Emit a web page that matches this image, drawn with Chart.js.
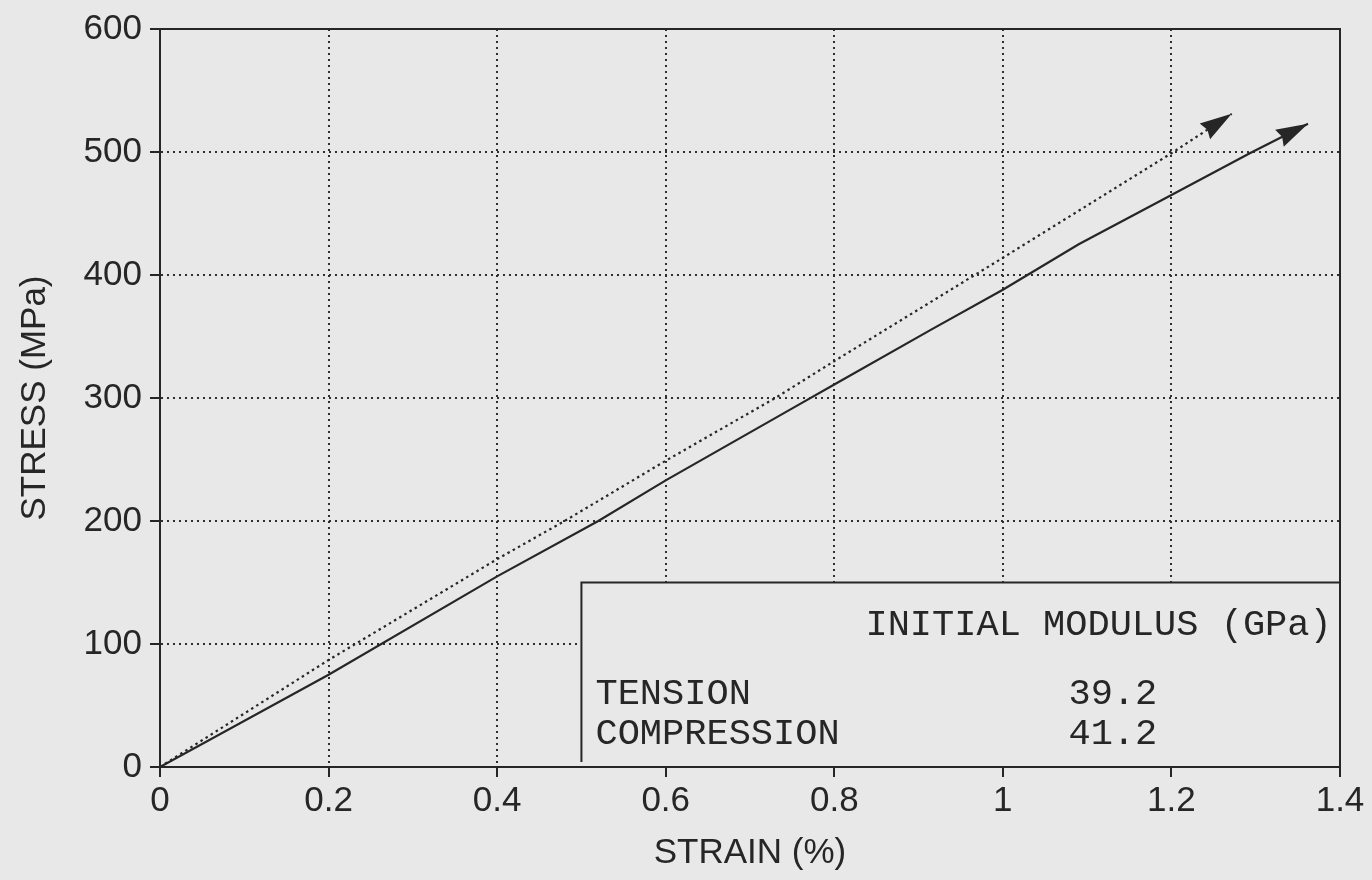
<!DOCTYPE html>
<html>
<head>
<meta charset="utf-8">
<title>Stress–strain curves</title>
<script src="https://cdn.jsdelivr.net/npm/chart.js@4/dist/chart.umd.min.js"></script>
<style>
  html, body { margin: 0; padding: 0; background: #e8e8e8; }
  #wrap { width: 1372px; height: 880px; }
</style>
</head>
<body>
<div id="wrap"><canvas id="chart" width="1372" height="880"></canvas></div>
<script>
// Tension curve (solid line): strain in %, stress in MPa
const tensionStrain = [0, 0.2, 0.4, 0.52, 0.6, 0.759, 0.8, 0.916, 1.0, 1.09, 1.2, 1.293, 1.362];
const tensionStress = [0, 75, 155, 200, 233, 295, 311, 356, 388, 425, 465, 499, 523];

// Compression curve (dotted line)
const compressionStrain = [0, 0.2, 0.4, 0.48, 0.6, 0.73, 0.8, 1.0, 1.2, 1.2715];
const compressionStress = [0, 87, 169, 200, 249, 300, 330, 414, 499, 531];

// Axis ticks
const xTickLabels = ['0', '0.2', '0.4', '0.6', '0.8', '1', '1.2', '1.4'];
const yTickLabels = ['0', '100', '200', '300', '400', '500', '600'];

// Modulus table shown in the lower-right box
const tableHeader = 'INITIAL MODULUS (GPa)';
const tableRows = ['TENSION', 'COMPRESSION'];
const tableValues = ['39.2', '41.2'];

const INK = '#262626';
const PAPER = '#e8e8e8';
const SANS = '"Liberation Sans", Arial, Helvetica, sans-serif';
const MONO = '"Liberation Mono", "Courier New", monospace';

const toPoints = (xs, ys) => xs.map((x, i) => ({ x: x, y: ys[i] }));

// Frame, modulus box and arrowheads
const decorations = {
  id: 'decorations',
  beforeDatasetsDraw(chart) {
    const { ctx, chartArea: a, scales: { x, y } } = chart;
    const bx = x.getPixelForValue(0.5);
    const by = y.getPixelForValue(150);
    ctx.save();
    // box background hides the grid underneath
    ctx.fillStyle = PAPER;
    ctx.fillRect(bx, by, a.right - bx, a.bottom - by);
    ctx.strokeStyle = INK;
    ctx.lineWidth = 2;
    ctx.setLineDash([]);
    ctx.beginPath();
    ctx.moveTo(bx, a.bottom - 5);
    ctx.lineTo(bx, by);
    ctx.lineTo(a.right, by);
    ctx.stroke();
    // plot frame
    ctx.strokeRect(a.left, a.top, a.right - a.left, a.bottom - a.top);
    ctx.restore();
  },
  afterDatasetsDraw(chart) {
    const { ctx, scales: { x, y } } = chart;
    // arrowheads at the end of each curve
    chart.data.datasets.forEach((ds, di) => {
      const pts = chart.getDatasetMeta(di).data;
      const p1 = pts[pts.length - 2], p2 = pts[pts.length - 1];
      const ang = Math.atan2(p2.y - p1.y, p2.x - p1.x);
      const len = 32, half = 9.5;
      ctx.save();
      ctx.translate(p2.x, p2.y);
      ctx.rotate(ang);
      ctx.fillStyle = INK;
      ctx.beginPath();
      ctx.moveTo(0, 0);
      ctx.lineTo(-len, -half);
      ctx.lineTo(-len + 3, 0);
      ctx.lineTo(-len, half);
      ctx.closePath();
      ctx.fill();
      ctx.restore();
    });
    // modulus table text
    const bx = x.getPixelForValue(0.5);
    const by = y.getPixelForValue(150);
    ctx.save();
    ctx.fillStyle = INK;
    ctx.font = '37px ' + MONO;
    ctx.textBaseline = 'middle';
    ctx.textAlign = 'left';
    ctx.fillText(tableHeader, bx + 284, by + 43);
    tableRows.forEach((r, i) => {
      ctx.fillText(r, bx + 14, by + 112 + i * 40);
      ctx.fillText(tableValues[i], bx + 487, by + 112 + i * 40);
    });
    ctx.restore();
  }
};

const gridStyle = {
  color: '#2e2e2e',
  lineWidth: 2,
  tickLength: 10,
  tickColor: INK,
  tickWidth: 2,
  tickBorderDash: []
};

new Chart(document.getElementById('chart'), {
  type: 'line',
  data: {
    datasets: [
      {
        label: 'TENSION',
        data: toPoints(tensionStrain, tensionStress),
        borderColor: INK,
        borderWidth: 2.2,
        pointRadius: 0,
        tension: 0,
        fill: false
      },
      {
        label: 'COMPRESSION',
        data: toPoints(compressionStrain, compressionStress),
        borderColor: INK,
        borderWidth: 2.2,
        borderDash: [2.5, 3.5],
        pointRadius: 0,
        tension: 0,
        fill: false
      }
    ]
  },
  options: {
    responsive: false,
    animation: false,
    devicePixelRatio: 1,
    layout: { padding: { top: 28, right: 32, bottom: 0, left: 0 } },
    plugins: { legend: { display: false }, tooltip: { enabled: false } },
    scales: {
      x: {
        type: 'linear',
        min: 0,
        max: 1.4,
        afterFit(s) { s.height = 113; },
        afterBuildTicks(s) { s.ticks = xTickLabels.map(v => ({ value: parseFloat(v) })); },
        ticks: {
          color: INK,
          font: { family: SANS, size: 35 },
          padding: 3,
          maxRotation: 0,
          autoSkip: false,
          callback: (v, i) => xTickLabels[i]
        },
        grid: gridStyle,
        border: { display: true, color: INK, width: 2, dash: [2, 4] },
        title: {
          display: true,
          text: 'STRAIN (%)',
          color: INK,
          font: { family: SANS, size: 35 },
          padding: { top: 0, bottom: 6 }
        }
      },
      y: {
        type: 'linear',
        min: 0,
        max: 600,
        afterFit(s) { s.width = 160; },
        afterBuildTicks(s) { s.ticks = yTickLabels.map(v => ({ value: parseFloat(v) })); },
        ticks: {
          color: INK,
          font: { family: SANS, size: 35 },
          padding: 8,
          autoSkip: false,
          callback: (v, i) => yTickLabels[i]
        },
        grid: gridStyle,
        border: { display: true, color: INK, width: 2, dash: [2, 4] },
        title: {
          display: true,
          text: 'STRESS (MPa)',
          color: INK,
          font: { family: SANS, size: 35 },
          padding: { top: 14, bottom: 0 }
        }
      }
    }
  },
  plugins: [decorations]
});
</script>
</body>
</html>
